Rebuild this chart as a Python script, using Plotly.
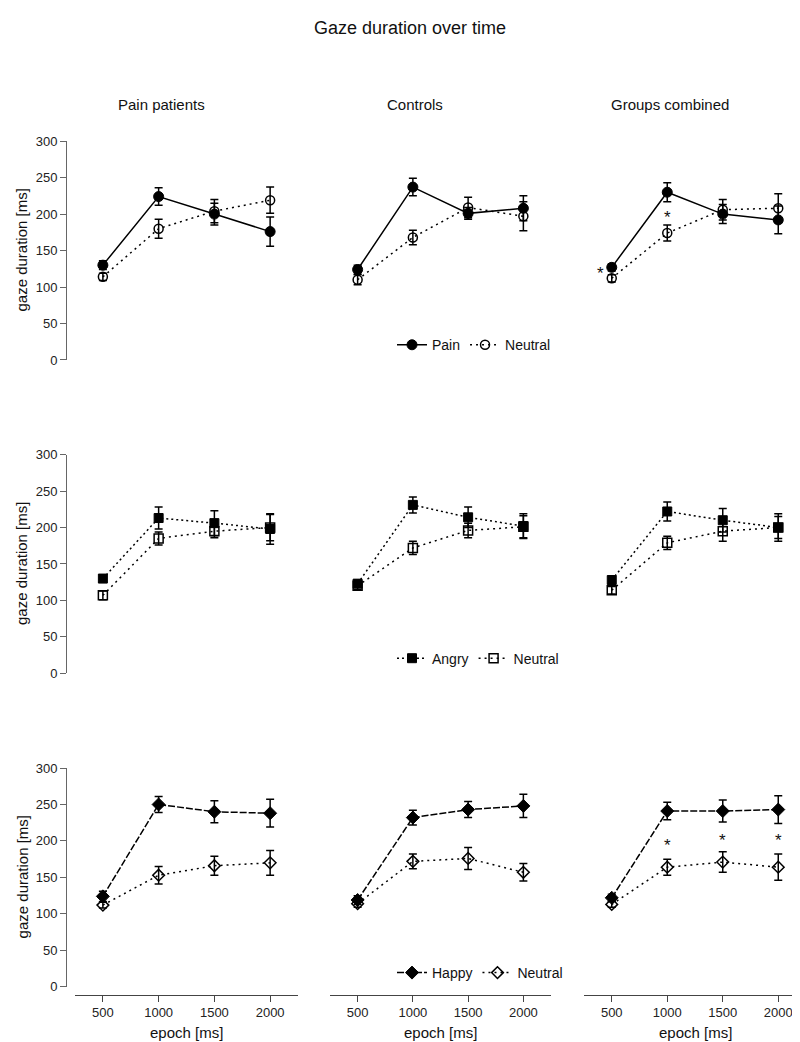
import plotly.graph_objects as go

W, H = 800, 1042

epochs = [500, 1000, 1500, 2000]
groups = ["Pain patients", "Controls", "Groups combined"]
emotions = ["Pain", "Angry", "Happy"]
neutral_label = "Neutral"

# Row 1: Pain vs Neutral  (mean, sem) per group
pain_mean = [[130, 224, 200, 176], [124, 237, 201, 208], [127, 230, 200, 192]]
pain_err = [[6, 12, 15, 20], [6, 12, 8, 17], [5, 13, 13, 19]]
pain_neu_mean = [[114, 180, 204, 219], [110, 168, 209, 197], [112, 174, 206, 208]]
pain_neu_err = [[5, 13, 16, 18], [7, 10, 14, 20], [5, 11, 14, 20]]

# Row 2: Angry vs Neutral
angry_mean = [[130, 213, 206, 198], [123, 231, 214, 202], [128, 222, 210, 200]]
angry_err = [[5, 15, 17, 21], [5, 11, 14, 17], [5, 13, 16, 19]]
angry_neu_mean = [[107, 185, 195, 200], [120, 172, 196, 201], [114, 179, 195, 200]]
angry_neu_err = [[6, 9, 9, 18], [5, 9, 10, 15], [5, 9, 14, 15]]

# Row 3: Happy vs Neutral
happy_mean = [[124, 250, 240, 238], [119, 232, 243, 248], [122, 241, 241, 243]]
happy_err = [[7, 11, 15, 19], [6, 10, 11, 16], [5, 12, 15, 19]]
happy_neu_mean = [[112, 153, 166, 170], [114, 172, 176, 157], [113, 164, 171, 164]]
happy_neu_err = [[4, 12, 13, 17], [5, 10, 15, 12], [4, 11, 14, 18]]

# significance stars (row, column, epoch, y value, x shift px)
star_row = [0, 0, 2, 2, 2]
star_col = [2, 2, 2, 2, 2]
star_x = [500, 1000, 1000, 1500, 2000]
star_y = [118, 196, 194, 200, 200]
star_shift = [-11, 0, 0, 0, 0]

yticks = [0, 50, 100, 150, 200, 250, 300]

rows = [
    (pain_mean, pain_err, pain_neu_mean, pain_neu_err, "solid", "circle", "circle-open"),
    (angry_mean, angry_err, angry_neu_mean, angry_neu_err, "2px,3px", "square", "square-open"),
    (happy_mean, happy_err, happy_neu_mean, happy_neu_err, "7px,2px", "diamond", "diamond-open"),
]

# pixel layout
col_px = [(67, 290), (322, 543), (576, 798)]
row_px = [(128, 350), (446, 668), (764, 986)]
col_title_x = [153, 407, 662]
legend_y = [335, 653, 972]
FONT = "Liberation Sans, Arial, sans-serif"
DOT = "2px,4px"

fig = go.Figure()
layout = dict(
    width=W, height=H, margin=dict(l=0, r=0, t=0, b=0),
    paper_bgcolor="white", plot_bgcolor="white",
    font=dict(family=FONT, color="#111", size=13),
    showlegend=True,
)

annotations = []
for r, (em, ee, nm, ne, emdash, esym, nsym) in enumerate(rows):
    lg = "legend" if r == 0 else f"legend{r+1}"
    for c in range(3):
        idx = r * 3 + c + 1
        xa = "x" if idx == 1 else f"x{idx}"
        ya = "y" if idx == 1 else f"y{idx}"
        show = (c == 1)
        fig.add_trace(go.Scatter(
            x=epochs, y=nm[c], xaxis=xa, yaxis=ya,
            mode="lines+markers", name=neutral_label, legend=lg, showlegend=show,
            line=dict(color="black", width=1.5, dash=DOT),
            marker=dict(symbol=nsym, size=9, color="black", line=dict(width=1.5, color="black")),
            error_y=dict(type="data", array=ne[c], visible=True, color="black", thickness=1.5, width=4),
            cliponaxis=False,
        ))
        fig.add_trace(go.Scatter(
            x=epochs, y=em[c], xaxis=xa, yaxis=ya,
            mode="lines+markers", name=emotions[r], legend=lg, showlegend=show,
            line=dict(color="black", width=1.5, dash=emdash),
            marker=dict(symbol=esym, size=10 if esym != "square" else 9, color="black", line=dict(width=1, color="black")),
            error_y=dict(type="data", array=ee[c], visible=True, color="black", thickness=1.5, width=4),
            cliponaxis=False,
        ))
        x0, x1 = col_px[c]
        y0, y1 = row_px[r]
        xkey = "xaxis" if idx == 1 else f"xaxis{idx}"
        ykey = "yaxis" if idx == 1 else f"yaxis{idx}"
        xd = dict(domain=[x0 / W, x1 / W], range=[250, 2250], anchor=ya,
                  showgrid=False, zeroline=False, fixedrange=True)
        if r == 2:
            xd.update(anchor="free", position=1 - 994 / H, showline=True, linecolor="#444", linewidth=1,
                      ticks="outside", ticklen=6, tickcolor="#444", tickvals=epochs,
                      ticktext=[str(e) for e in epochs], tickfont=dict(size=13, color="#222"))
        else:
            xd.update(visible=False)
        yd = dict(domain=[1 - y1 / H, 1 - y0 / H], range=[0, 300], anchor=xa,
                  showgrid=False, zeroline=False, fixedrange=True)
        if c == 0:
            yd.update(anchor="free", position=58 / W, showline=True, linecolor="#666", linewidth=1,
                      ticks="outside", ticklen=6, tickcolor="#666", tickvals=yticks,
                      tickfont=dict(size=13, color="#222"))
            annotations.append(dict(text="gaze duration [ms]", xref="paper", yref="paper",
                                    x=14 / W, y=1 - (y0 + y1) / 2 / H, textangle=-90,
                                    showarrow=False, font=dict(size=15, color="#111"),
                                    xanchor="center", yanchor="middle"))
        else:
            yd.update(visible=False)
        layout[xkey] = xd
        layout[ykey] = yd
    layout[lg] = dict(orientation="h", x=384 / W, xanchor="left", y=1 - legend_y[r] / H,
                      yanchor="middle", bgcolor="rgba(0,0,0,0)", font=dict(size=14, color="#111"),
                      itemwidth=30, traceorder="reversed")

for c in range(3):
    cx = (col_px[c][0] + col_px[c][1]) / 2
    annotations.append(dict(text=groups[c], xref="paper", yref="paper", x=col_title_x[c] / W, y=1 - 91 / H,
                            showarrow=False, font=dict(size=15, color="#111"),
                            xanchor="center", yanchor="middle"))
    annotations.append(dict(text="epoch [ms]", xref="paper", yref="paper", x=cx / W, y=1 - 1032 / H,
                            showarrow=False, font=dict(size=15, color="#111"),
                            xanchor="center", yanchor="middle"))

annotations.append(dict(text="Gaze duration over time", xref="paper", yref="paper", x=402 / W, y=1 - 13 / H,
                        showarrow=False, font=dict(size=18, color="#111"), xanchor="center", yanchor="middle"))

for i in range(len(star_x)):
    idx = star_row[i] * 3 + star_col[i] + 1
    xa = "x" if idx == 1 else f"x{idx}"
    ya = "y" if idx == 1 else f"y{idx}"
    annotations.append(dict(text="*", xref=xa, yref=ya, x=star_x[i], y=star_y[i], xshift=star_shift[i],
                            showarrow=False, font=dict(size=17, color="#111"),
                            xanchor="center", yanchor="middle"))

layout["annotations"] = annotations
fig.update_layout(**layout)
fig.write_html("out.html")
